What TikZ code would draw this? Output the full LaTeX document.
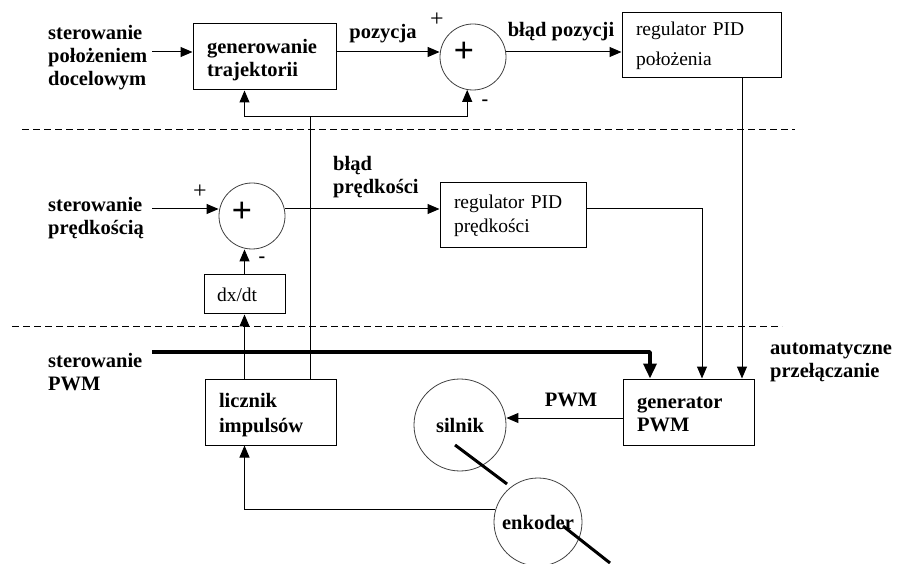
\documentclass[tikz,border=0pt]{standalone}
\usepackage{fontspec}
\setmainfont{Liberation Serif}
\usetikzlibrary{arrows.meta,positioning}
\newcommand{\napis}{\fontsize{20.5}{23}\selectfont\bfseries}
\newcommand{\gorny}{\rule{0pt}{21pt}}
\newcommand{\dolny}{\rule[-5pt]{0pt}{5pt}}
\tikzset{
  blok/.style={draw, line width=1pt, align=left, inner xsep=14pt, inner ysep=0pt, font=\napis},
  pidblok/.style={blok, font=\fontsize{19.5}{24}\selectfont},
  sumator/.style={draw=black!75, circle, line width=0.8pt, minimum size=66pt, inner sep=0pt},
  kolo/.style={draw=black!75, circle, line width=0.8pt, inner sep=0pt, font=\napis},
  opis/.style={align=left, inner sep=0pt, font=\napis},
  znak/.style={inner sep=0pt, font=\fontsize{24}{24}\selectfont},
  duzyznak/.style={inner sep=0pt, font=\fontsize{36}{36}\selectfont\bfseries},
  minus/.style={inner sep=0pt, font=\fontsize{20}{20}\selectfont\bfseries},
  flow/.style={-{Triangle[length=12pt,width=10pt]}, line width=1pt},
  thickflow/.style={-{Triangle[length=15pt,width=13pt]}, line width=3.5pt, line join=round},
  shaft/.style={line width=3pt},
  separator/.style={line width=1pt, dash pattern=on 7pt off 4pt}
}

\begin{document}
\begin{tikzpicture}[x=1pt, y=-1pt]
  \useasboundingbox (0,0) rectangle (903,564);
  \coordinate (rowPos) at (0,52);
  \coordinate (rowVel) at (0,209);
  \coordinate (rowPwm) at (0,418);
  \coordinate (startPol) at (152,52);
  \coordinate (startVel) at (152,209);
  \coordinate (startPwm) at (152,352);
  \coordinate (inPwm) at (650,0);
  \coordinate (inVel) at (702,0);
  \coordinate (inPos) at (742,0);
  \coordinate (fbTap) at (310,117);

  \node[opis, anchor=west] (celPol) at (48,58) {sterowanie\\położeniem\\docelowym};
  \node[blok, text width=115pt, minimum height=66pt] (gen) at (264.5,57) {\gorny generowanie\\trajektorii\dolny};
  \node[opis] (pozycja) at (383,34) {pozycja};
  \node[sumator] (sum1) at (473,57) {};
  \node[duzyznak] (plusSum1) at ([shift={(-9pt,5pt)}]sum1) {+};
  \node[znak] (plusPos) at (437,20) {+};
  \node[minus] (minusPos) at (485,103) {-};
  \node[opis] (bladPoz) at (561,32) {błąd pozycji};
  \node[pidblok, text width=131pt, minimum height=65pt, font=\fontsize{19.5}{30}\selectfont] (regPos) at (701.5,45.5) {regulator PID\\położenia};

  \draw[separator] (22,130) -- (795,130);

  \node[opis, anchor=west] (celVel) at (48,218) {sterowanie\\prędkością};
  \node[znak] (plusVel) at (200,192) {+};
  \node[sumator] (sum2) at (252,216) {};
  \node[duzyznak] (plusSum2) at ([shift={(-10pt,4pt)}]sum2) {+};
  \node[minus] (minusVel) at (262,260) {-};
  \node[opis, anchor=west] (bladVel) at (333,177) {błąd\\prędkości};
  \node[pidblok, text width=118pt, minimum height=65pt] (regVel) at (513,215.5) {regulator PID\\prędkości};
  \node[pidblok, inner xsep=13pt, text width=55pt, minimum height=39pt] (dxdt) at (244.5,294.5) {dx/dt};

  \draw[separator] (12,327) -- (782,327);

  \node[opis, anchor=west] (celPwm) at (48,372) {sterowanie\\PWM};
  \node[blok, text width=103pt, minimum height=66pt, font=\napis\fontsize{20.5}{25}\selectfont] (lic) at (270.5,412) {\gorny licznik\\impulsów\dolny};
  \node[blok, text width=103pt, minimum height=66pt] (gpwm) at (688.5,412) {\gorny generator\\PWM\dolny};
  \node[opis, anchor=west] (auto) at (770,362) {automatyczne\\przełączanie};
  \node[kolo, minimum size=92pt] (sil) at (460,425) {silnik};
  \node[opis] (pwm) at (571,400) {PWM};

  \draw[flow] (startPol) -- (gen.west |- rowPos);
  \draw[flow] (gen.east |- rowPos) -- (sum1.west |- rowPos);
  \draw[flow] (sum1.east |- rowPos) -- (regPos.west |- rowPos);
  \draw (lic.north -| fbTap) -- (fbTap);
  \draw[flow] (fbTap) -| (gen.south -| dxdt);
  \draw[flow] (fbTap) -| (sum1.260);
  \draw[flow] (regPos.south -| inPos) -- (gpwm.north -| inPos);

  \draw[flow] (startVel) -- (sum2.west |- rowVel);
  \draw[flow] (sum2.east |- rowVel) -- (regVel.west |- rowVel);
  \draw[flow] (regVel.east |- rowVel) -| (gpwm.north -| inVel);
  \draw[flow] (dxdt.north) -- (dxdt.north |- sum2.south);
  \draw[flow] (lic.north -| dxdt) -- (dxdt.south);

  \draw[thickflow] (startPwm) -| (gpwm.north -| inPwm);
  \draw[flow] (gpwm.west |- rowPwm) -- (sil.east |- rowPwm);

  \coordinate (shaftA) at (455,445);
  \coordinate (shaftB) at (507,484);
  \draw[shaft] (shaftA) -- (shaftB);
  \node[kolo, minimum size=88pt] (enc) at (538,522) {enkoder};
  \coordinate (shaftC) at (563,526);
  \coordinate (shaftD) at (610,563);
  \draw[shaft] (shaftC) -- (shaftD);
  \draw[flow] (enc.164) -| (lic.south -| dxdt);
\end{tikzpicture}
\end{document}
